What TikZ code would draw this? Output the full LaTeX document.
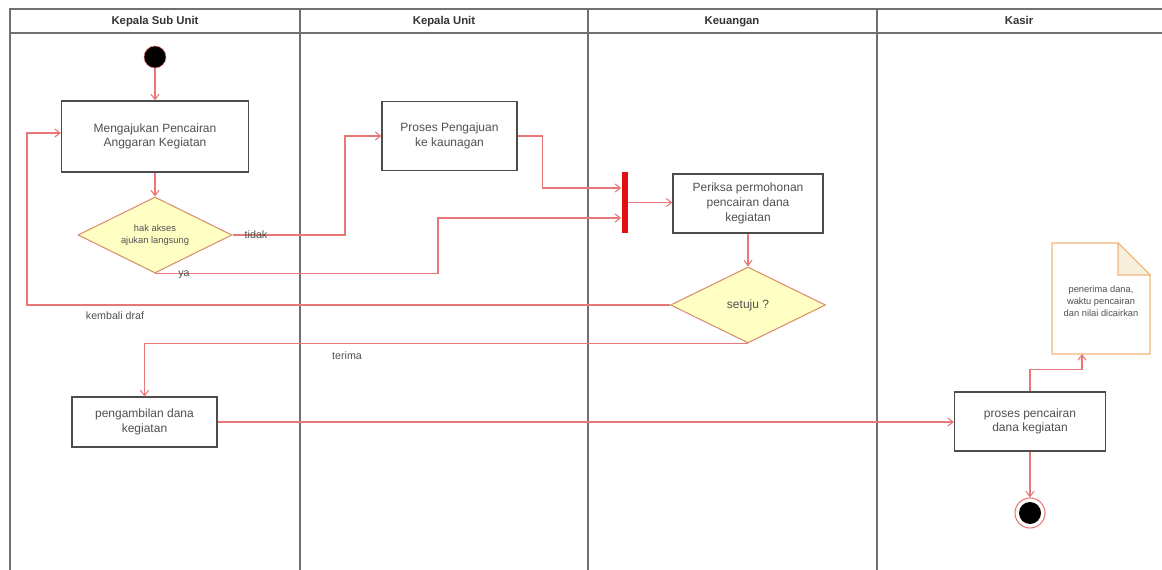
\documentclass[tikz,border=0pt]{standalone}
\usepackage{fontspec}
\setmainfont{Liberation Sans}
\usetikzlibrary{arrows.meta,shapes.geometric,calc}
\definecolor{lanegray}{HTML}{707070}
\definecolor{flow}{HTML}{E87878}
\definecolor{decfill}{HTML}{FFFFC4}
\definecolor{decdraw}{HTML}{D99070}
\definecolor{docdraw}{HTML}{F4B87A}
\definecolor{docfold}{HTML}{F8EEDC}
\definecolor{barred}{HTML}{E01010}
\definecolor{txt}{HTML}{505050}
\begin{document}
\begin{tikzpicture}[x=0.75pt,y=-0.75pt,
  lane/.style={draw=lanegray,line width=0.9pt},
  actbox/.style={draw=black!70,line width=0.8pt,fill=white,text=txt,font=\fontsize{9}{11}\selectfont,align=center,inner sep=0pt},
  decision/.style={diamond,shape aspect=2,draw=decdraw,fill=decfill,line width=0.8pt,inner sep=0pt,align=center,text=txt},
  flowline/.style={draw=flow,line width=0.8pt,-{Straight Barb[length=4pt,width=6pt]}},
  lbl/.style={font=\fontsize{8}{10}\selectfont,text=txt},
  hdr/.style={font=\bfseries\fontsize{8.5}{10}\selectfont,text=black!80,anchor=base}]
\useasboundingbox (0,0) rectangle (1162,570);
\fill[white] (0,0) rectangle (1162,570);
% swimlanes
\draw[lane] (1162,9) -- (10,9) -- (10,570);
\draw[lane] (10,33) -- (1162,33);
\foreach \x in {300,588,877} \draw[lane] (\x,9) -- (\x,570);
\node[hdr] (h1) at (155,25) {Kepala Sub Unit};
\node[hdr] (h2) at (444,25) {Kepala Unit};
\node[hdr] (h3) at (732,25) {Keuangan};
\node[hdr] (h4) at (1019,25) {Kasir};
% nodes
\node[circle,fill=black,draw=flow,line width=0.4pt,minimum size=22*0.75pt,inner sep=0pt] (start) at (155,57) {};
\node[actbox,minimum width=187*0.75pt,minimum height=71*0.75pt] (a1) at (155,136.5) {Mengajukan Pencairan\\Anggaran Kegiatan};
\node[decision,minimum width=154*0.75pt,minimum height=76*0.75pt,font=\fontsize{7}{8.5}\selectfont] (d1) at (155,235) {hak akses\\ajukan langsung};
\node[actbox,minimum width=135*0.75pt,minimum height=69*0.75pt] (a2) at (449.5,136) {Proses Pengajuan\\ke kaunagan};
\node[fill=barred,minimum width=6*0.75pt,minimum height=61*0.75pt,inner sep=0pt] (bar) at (624.5,202.5) {};
\node[actbox,minimum width=150*0.75pt,minimum height=59*0.75pt] (a3) at (748,203.5) {Periksa permohonan\\pencairan dana\\kegiatan};
\node[decision,minimum width=155*0.75pt,minimum height=76*0.75pt,font=\fontsize{9}{11}\selectfont] (d2) at (748,305) {setuju ?};
\node[actbox,minimum width=145*0.75pt,minimum height=50*0.75pt] (a4) at (144.5,422) {pengambilan dana\\kegiatan};
\node[actbox,minimum width=151*0.75pt,minimum height=59*0.75pt] (a5) at (1030,421.5) {proses pencairan\\dana kegiatan};
\node[circle,draw=flow,line width=0.8pt,fill=white,minimum size=30*0.75pt,inner sep=0pt] (end) at (1030,513) {};
\node[circle,fill=black,minimum size=22*0.75pt,inner sep=0pt] (endin) at (end) {};
% document (note)
\coordinate (dtl) at (1052,243);
\coordinate (dfold1) at (1118,243);
\coordinate (dfold2) at (1150,275);
\coordinate (dbr) at (1150,354);
\coordinate (dbl) at (1052,354);
\coordinate (docb) at (1082,354);
\draw[draw=docdraw,fill=white,line width=0.8pt] (dtl) -- (dfold1) -- (dfold2) -- (dbr) -- (dbl) -- cycle;
\draw[draw=docdraw,fill=docfold,line width=0.8pt] (dfold1) -- (1118,275) -- (dfold2) -- cycle;
\node[font=\fontsize{7}{9}\selectfont,text=txt,align=center] (doctext) at (1101,301) {penerima dana,\\waktu pencairan\\dan nilai dicairkan};
% connectors
\coordinate (barin1) at ($(bar.west)+(0,-14.5)$);
\coordinate (barin2) at ($(bar.west)+(0,15.5)$);
\coordinate (a1in) at ($(a1.west)+(0,-3.5)$);
\draw[flowline] (start) -- (a1);
\draw[flowline] (a1) -- (d1);
\draw[flowline] (d1.east) -- (345,235) |- (a2.west);
\draw[flowline] (d1.south) -- (d1.south -| 438,0) |- (barin2);
\draw[flowline] (a2.east) -- ++(25,0) |- (barin1);
\draw[flowline] (bar.east) -- (bar.east -| a3.west);
\draw[flowline] (a3) -- (d2);
\draw[flowline] (d2.west) -- (27,305) |- (a1in);
\draw[flowline] (d2.south) -| (a4.north);
\draw[flowline] (a4.east) -- (a4.east -| a5.west);
\draw[flowline] (a5.north) -- ++(0,-22) -| (docb);
\draw[flowline] (a5) -- (end);
% labels
\node[lbl] (ltidak) at (256,235) {tidak};
\node[lbl] (lya) at (184,275) {ya};
\node[lbl] (lkembali) at (115,316) {kembali draf};
\node[lbl] (lterima) at (347,356) {terima};
\end{tikzpicture}
\end{document}
